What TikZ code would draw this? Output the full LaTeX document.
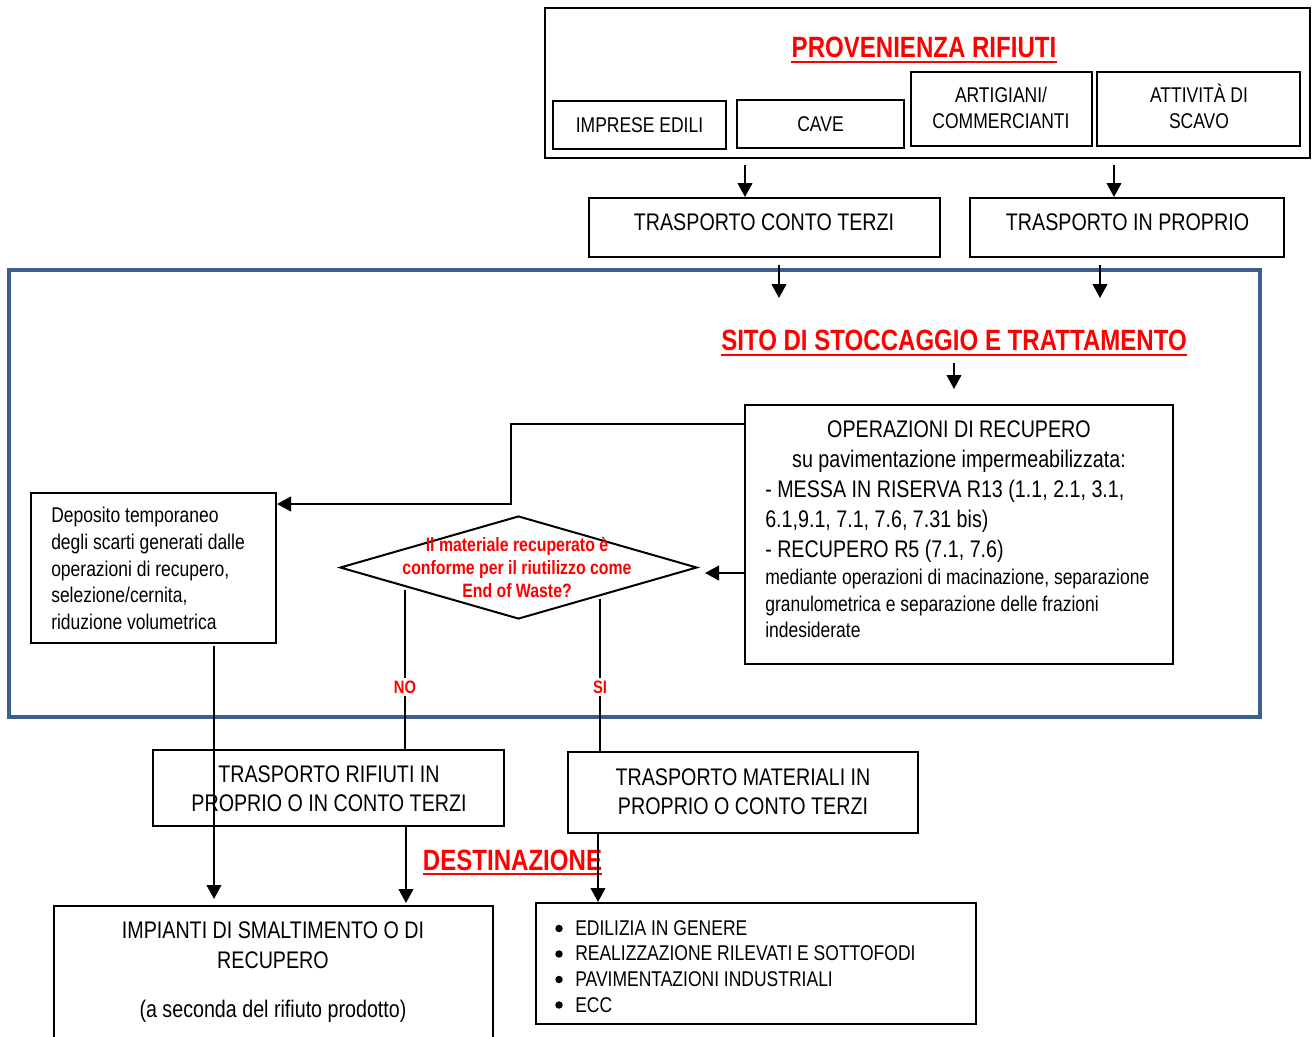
\documentclass[tikz,border=0pt]{standalone}
\usepackage{fontspec}
\setmainfont{Liberation Sans}[FakeStretch=0.82]
\usetikzlibrary{arrows.meta,fit,shapes.geometric}
\definecolor{frblue}{HTML}{3C5F8E}
\definecolor{frred}{HTML}{FF0000}
\begin{document}
\begin{tikzpicture}[x=0.75pt,y=-0.75pt,
  box/.style={draw=black, line width=1.5pt, inner sep=0pt},
  arr/.style={line width=1.5pt, -{Triangle[width=11pt,length=10.5pt]}},
  ln/.style={line width=1.5pt},
  bigt/.style={font=\fontsize{18}{22.5}\selectfont, inner sep=0pt},
  smallt/.style={font=\fontsize{16}{19.5}\selectfont, inner sep=0pt},
  redt/.style={font=\fontsize{22}{26}\selectfont\bfseries, text=frred, inner sep=0pt},
  ul/.style={frred, line width=1.5pt},
  lab/.style={font=\fontsize{13.5}{16}\selectfont\bfseries, text=frred, fill=white, inner sep=2pt},
  dot/.style={circle, fill=black, inner sep=0pt, minimum size=5.6pt}
]
\useasboundingbox (0,0) rectangle (1314,1036);

% ---- provenance ----
\node[box, fit={(545,8)(1310,158)}] (prov) {};
\node[redt] (provt) at (924,47) {PROVENIENZA RIFIUTI};
\draw[ul] ([yshift=-3pt]provt.south west) -- ([yshift=-3pt]provt.south east);

\node[box, fit={(553,101)(726,149)}] (impr) {};
\node[smallt] (imprt) at (impr.center) {IMPRESE EDILI};
\node[box, fit={(737,100)(904,148)}] (cave) {};
\node[smallt] (cavet) at (cave.center) {CAVE};
\node[box, fit={(911,72)(1092,146)}] (artig) {};
\node[smallt, align=center] (artigt) at (1001,108) {ARTIGIANI/\\COMMERCIANTI};
\node[box, fit={(1097,72)(1300,146)}] (attiv) {};
\node[smallt, align=center] (attivt) at (1199,106) {ATTIVITÀ DI\\SCAVO};

% ---- transport ----
\node[box, fit={(589,198)(940,257)}] (tct) {};
\node[bigt] (tctt) at (764,222.5) {TRASPORTO CONTO TERZI};
\node[box, fit={(970,198)(1284,257)}] (tip) {};
\node[bigt] (tipt) at (1127.5,222.5) {TRASPORTO IN PROPRIO};

% ---- site frame ----
\node[draw=frblue, line width=3pt, inner sep=0pt, fit={(9,269.5)(1260,717)}] (site) {};

\node[redt] (sito) at (954,340) {SITO DI STOCCAGGIO E TRATTAMENTO};
\draw[ul] ([yshift=-3pt]sito.south west) -- ([yshift=-3pt]sito.south east);

% operations box
\node[box, fit={(745,405)(1173,664)}] (oper) {};
\node[bigt, align=center] (opt1) at (959,446.5) {OPERAZIONI DI RECUPERO\\su pavimentazione impermeabilizzata:};
\node[bigt, align=left, anchor=west] (opt2) at (765,520.8) {- MESSA IN RISERVA R13 (1.1, 2.1, 3.1,\\6.1,9.1, 7.1, 7.6, 7.31 bis)\\- RECUPERO R5 (7.1, 7.6)};
\node[font=\fontsize{16}{19.9}\selectfont, inner sep=0pt, align=left, anchor=west] (opt3) at (765,603.8) {mediante operazioni di macinazione, separazione\\granulometrica e separazione delle frazioni\\indesiderate};

% deposit box
\node[box, fit={(31,493)(276,643)}] (dep) {};
\node[font=\fontsize{16}{19.9}\selectfont, inner sep=0pt, align=left, anchor=west] (dept) at (51,568.4) {Deposito temporaneo\\degli scarti generati dalle\\operazioni di recupero,\\selezione/cernita,\\riduzione volumetrica};

% decision
\node[draw=black, line width=1.5pt, diamond, aspect=3.466, minimum width=267.75pt, minimum height=77.25pt, inner sep=0pt] (dia) at (518.5,567.5) {};
\node[font=\fontsize{14.5}{17.25}\selectfont\bfseries, text=frred, inner sep=0pt, align=center] (diat) at (517,567) {Il materiale recuperato è\\conforme per il riutilizzo come\\End of Waste?};

% ---- lower transport ----
\node[box, fit={(153,750)(504,826)}] (trr) {};
\node[font=\fontsize{18}{21.4}\selectfont, inner sep=0pt, align=center] (trrt) at (329,788.5) {TRASPORTO RIFIUTI IN\\PROPRIO O IN CONTO TERZI};
\node[box, fit={(568,752)(918,833)}] (tm) {};
\node[font=\fontsize{18}{21.75}\selectfont, inner sep=0pt, align=center] (tmt) at (743,791.5) {TRASPORTO MATERIALI IN\\PROPRIO O CONTO TERZI};

\node[redt] (dest) at (512.5,860) {DESTINAZIONE};
\draw[ul] ([yshift=-2.5pt]dest.south west) -- ([yshift=-2.5pt]dest.south east);

% ---- destinations ----
\node[box, fit={(54,906)(493,1045)}] (imp) {};
\node[bigt, align=center] (impt) at (273,945) {IMPIANTI DI SMALTIMENTO O DI\\RECUPERO};
\node[bigt] (impt2) at (273,1011) {(a seconda del rifiuto prodotto)};
\node[box, fit={(536,903)(976,1024)}] (bul) {};
\node[font=\fontsize{16}{19.3}\selectfont, inner sep=0pt, align=left, anchor=west] (bult) at (575,966.5)
 {EDILIZIA IN GENERE\\REALIZZAZIONE RILEVATI E SOTTOFODI\\PAVIMENTAZIONI INDUSTRIALI\\ECC};
\node[dot] (d1) at (559,928.5) {};
\node[dot] (d2) at (559,954) {};
\node[dot] (d3) at (559,979.5) {};
\node[dot] (d4) at (559,1005) {};

% ---- connectors ----
\coordinate (a1s) at (745,165);
\draw[arr] (a1s) -- (a1s |- tct.north);
\coordinate (a2s) at (1114,165);
\draw[arr] (a2s) -- (a2s |- tip.north);
\coordinate (b1s) at (779,265); \coordinate (b1e) at (779,298);
\draw[arr] (b1s) -- (b1e);
\coordinate (b2s) at (1100,265); \coordinate (b2e) at (1100,298);
\draw[arr] (b2s) -- (b2e);
\coordinate (c1s) at (954,363); \coordinate (c1e) at (954,389);
\draw[arr] (c1s) -- (c1e);

\coordinate (k1) at (0,424); \coordinate (j1) at (511,464); \coordinate (k2) at (0,504);
\draw[arr] (oper.west |- k1) -| (j1) |- (dep.east |- k2);
\coordinate (k3) at (0,573); \coordinate (dIn) at (705,573);
\draw[arr] (oper.west |- k3) -- (dIn);

\coordinate (noS) at (405,590);
\draw[ln] (noS) -- (noS |- trr.north);
\coordinate (siS) at (600,599);
\draw[ln] (siS) -- (siS |- tm.north);
\node[lab] (no) at (405,687) {NO};
\node[lab] (si) at (600,687) {SI};

\coordinate (dS) at (214,646); \coordinate (dE) at (214,899);
\draw[arr] (dS) -- (dE);
\coordinate (tS) at (406,826); \coordinate (tE) at (406,903);
\draw[arr] (tS) -- (tE);
\coordinate (mS) at (598,833); \coordinate (mE) at (598,902);
\draw[arr] (mS) -- (mE);
\end{tikzpicture}
\end{document}
